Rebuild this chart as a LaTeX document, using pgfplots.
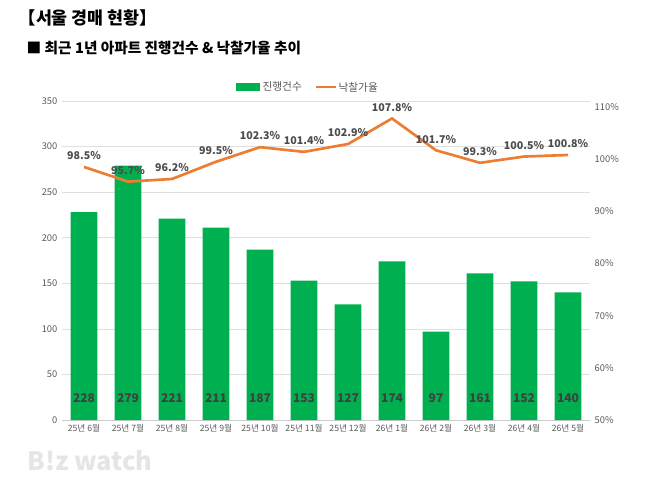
\documentclass[border=0pt]{standalone}
\usepackage{pgfplots}
\pgfplotsset{compat=1.18}
\usepackage{fontspec}
\setmainfont{Noto Sans CJK KR}
\definecolor{bargreen}{HTML}{00B050}
\definecolor{lineorange}{HTML}{ED7D31}
\definecolor{tickgray}{HTML}{595959}
\begin{document}
\begin{tikzpicture}
\path (0pt,0pt) rectangle (483.75pt,364.5pt);
\node[anchor=west,font=\bfseries\fontsize{13}{14}\selectfont] at (10.5pt,351pt) {【서울 경매 현황】};
\node[anchor=west,font=\bfseries\fontsize{11}{12}\selectfont] at (16.5pt,328.5pt) {■ 최근 1년 아파트 진행건수 \& 낙찰가율 추이};
\fill[bargreen] (177pt,296.25pt) rectangle (195pt,302.25pt);
\node[anchor=west,font=\fontsize{8}{9}\selectfont,text=tickgray,inner sep=1pt] at (195.75pt,299.25pt) {진행건수};
\draw[lineorange,line width=2pt] (237pt,299.25pt) -- (252pt,299.25pt);
\node[anchor=west,font=\fontsize{8}{9}\selectfont,text=tickgray,inner sep=1pt] at (252.75pt,299.25pt) {낙찰가율};
\node[font=\bfseries\fontsize{19}{20}\selectfont,text=gray!20] at (67.5pt,18.75pt) {B!z watch};
\begin{axis}[at={(46.5pt,49.5pt)},anchor=south west,scale only axis,
  width=396pt,height=239.25pt,
  xmin=-0.5,xmax=11.5,ymin=0,ymax=350,
  ytick={0,50,...,350},
  xtick={0,...,11},
  xticklabels={25년 6월,25년 7월,25년 8월,25년 9월,25년 10월,25년 11월,25년 12월,26년 1월,26년 2월,26년 3월,26년 4월,26년 5월},
  x tick label style={font=\fontsize{6.5}{7}\selectfont,text=tickgray},
  y tick label style={font=\fontsize{7}{8}\selectfont,text=tickgray},
  /pgf/number format/assume math mode=true,
  axis line style={draw=none},
  axis x line*=bottom,
  x axis line style={draw=gray!40},
  major tick length=0pt,
  ymajorgrids,grid style={gray!25},
  axis y line*=left,
  clip=false]
\addplot[ybar,bar width=20pt,fill=bargreen,draw=none] coordinates {
(0,228)(1,279)(2,221)(3,211)(4,187)(5,153)(6,127)(7,174)(8,97)(9,161)(10,152)(11,140)};
\addplot[draw=none,mark=none,point meta=explicit,
  nodes near coords={\pgfmathprintnumber{\pgfplotspointmeta}},
  nodes near coords style={font=\bfseries\fontsize{9}{10}\selectfont,text=black!75,anchor=center}] coordinates {
(0,24)[228](1,24)[279](2,24)[221](3,24)[211](4,24)[187](5,24)[153](6,24)[127](7,24)[174](8,24)[97](9,24)[161](10,24)[152](11,24)[140]};
\end{axis}
\begin{axis}[at={(46.5pt,49.5pt)},anchor=south west,scale only axis,
  width=396pt,height=239.25pt,
  xmin=-0.5,xmax=11.5,ymin=50,ymax=111.15,
  ytick={50,60,...,110},
  yticklabel={\pgfmathprintnumber{\tick}\%},
  y tick label style={font=\fontsize{7}{8}\selectfont,text=tickgray},
  /pgf/number format/assume math mode=true,
  axis y line*=right,axis x line=none,
  axis line style={draw=none},
  major tick length=0pt,
  clip=false]
\addplot[lineorange,line width=2pt,mark=none,
  nodes near coords={\pgfmathprintnumber[fixed,fixed zerofill,precision=1]{\pgfplotspointmeta}\%},
  nodes near coords style={font=\bfseries\fontsize{8}{9}\selectfont,text=black!70,anchor=south,yshift=1pt}] coordinates {
(0,98.5)(1,95.7)(2,96.2)(3,99.5)(4,102.3)(5,101.4)(6,102.9)(7,107.8)(8,101.7)(9,99.3)(10,100.5)(11,100.8)};
\end{axis}
\end{tikzpicture}
\end{document}
